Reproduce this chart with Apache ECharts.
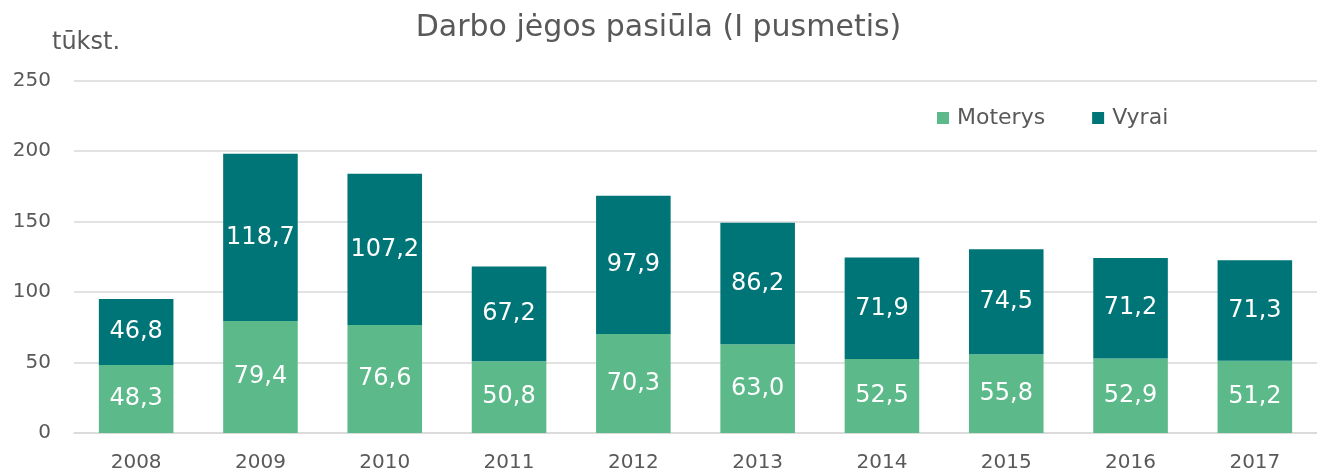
<!DOCTYPE html>
<html>
<head>
<meta charset="utf-8">
<script src="https://cdn.jsdelivr.net/npm/echarts@6/dist/echarts.min.js"></script>
<style>html,body{margin:0;padding:0;background:#fff}#c{width:1317px;height:474px}</style>
</head>
<body>
<div id="c"></div>
<script>
var titleText = 'Darbo jėgos pasiūla (I pusmetis)';
var unitText = 'tūkst.';
var categories = ['2008','2009','2010','2011','2012','2013','2014','2015','2016','2017'];
var seriesNames = ['Moterys','Vyrai'];
var moterys = [48.3, 79.4, 76.6, 50.8, 70.3, 63.0, 52.5, 55.8, 52.9, 51.2];
var vyrai = [46.8, 118.7, 107.2, 67.2, 97.9, 86.2, 71.9, 74.5, 71.2, 71.3];

var FONT = 'DejaVu Sans';
var GRAY = '#595959';
function fmt(p){ return p.value.toFixed(1).replace('.', ','); }
var chart = echarts.init(document.getElementById('c'));
chart.setOption({
  animation: false,
  textStyle: {fontFamily: FONT},
  title: {text: titleText, left: 'center', top: 8,
    textStyle: {fontFamily: FONT, fontSize: 30, fontWeight: 'normal', color: GRAY}},
  graphic: [{type: 'text', left: 52, top: 31,
    style: {text: unitText, font: '24px "DejaVu Sans"', fill: GRAY}}],
  legend: {left: 932, top: 102, itemWidth: 12, itemHeight: 12, itemGap: 47, icon: 'rect',
    data: seriesNames,
    textStyle: {fontFamily: FONT, fontSize: 22, color: GRAY, padding: [0,0,0,3]}},
  grid: {left: 74, top: 80.5, height: 352.5, width: 1254, containLabel: false},
  xAxis: {type: 'category', data: categories,
    axisLine: {show: true, lineStyle: {color: '#d9d9d9', width: 1.5}},
    axisTick: {show: false},
    axisLabel: {margin: 20, fontFamily: FONT, fontSize: 20, color: GRAY}},
  yAxis: {type: 'value', min: 0, max: 250, interval: 50,
    axisLine: {show: false}, axisTick: {show: false},
    splitLine: {lineStyle: {color: '#d9d9d9', width: 1.5}},
    axisLabel: {margin: 23, fontFamily: FONT, fontSize: 20, color: GRAY}},
  series: [
    {name: seriesNames[0], type: 'bar', stack: 't', data: moterys, barWidth: '60%',
      itemStyle: {color: '#5cb98a'},
      label: {show: true, position: 'inside', formatter: fmt, color: '#fff', fontFamily: FONT, fontSize: 24}},
    {name: seriesNames[1], type: 'bar', stack: 't', data: vyrai, barWidth: '60%',
      itemStyle: {color: '#007578'},
      label: {show: true, position: 'inside', formatter: fmt, color: '#fff', fontFamily: FONT, fontSize: 24}}
  ]
});
</script>
</body>
</html>
